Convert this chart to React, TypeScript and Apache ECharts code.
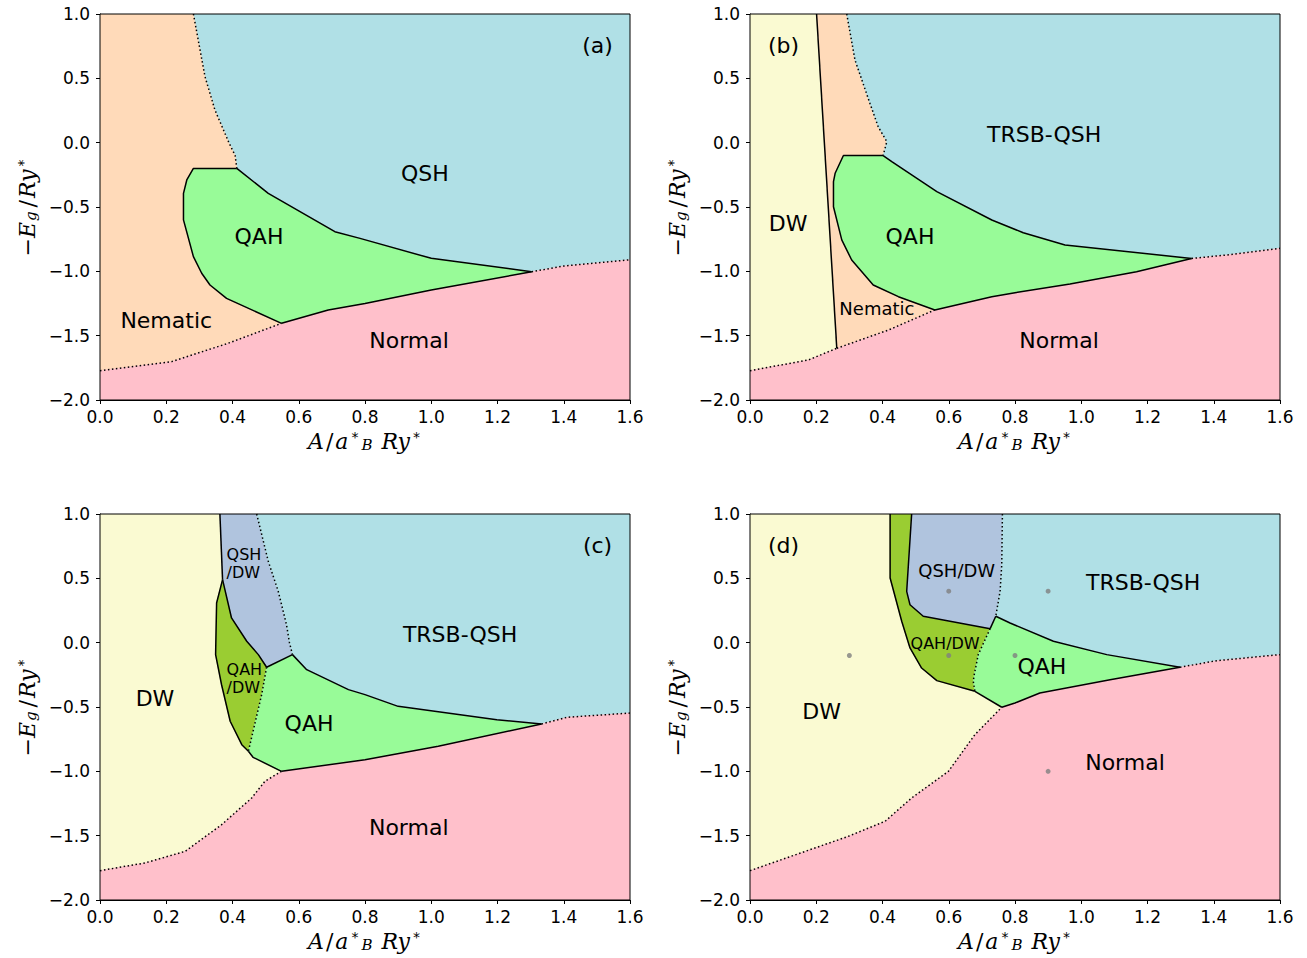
import React, { useEffect, useRef } from "react";
import * as echarts from "echarts";

type P = [number, number];

const COLORS = {
  nem: "#FFDAB9",
  qsh: "#B0E0E6",
  qah: "#98FB98",
  normal: "#FFC0CB",
  dw: "#FAFAD2",
  qshdw: "#B0C4DE",
  qahdw: "#9ACD32",
};

const X_MIN = 0, X_MAX = 1.6, X_STEP = 0.2;
const Y_MIN = -2, Y_MAX = 1, Y_STEP = 0.5;

// ---------- Panel (a) boundaries ----------
const A_nemQsh: P[] = [[0.282, 1.0], [0.317, 0.513], [0.347, 0.254], [0.39, -0.005], [0.408, -0.1], [0.413, -0.2]];
const A_qahLeft: P[] = [[0.413, -0.2], [0.282, -0.2], [0.262, -0.29], [0.252, -0.394], [0.252, -0.6], [0.282, -0.886], [0.307, -1.015], [0.332, -1.106], [0.382, -1.21], [0.548, -1.404]];
const A_qahTop: P[] = [[0.413, -0.2], [0.508, -0.394], [0.709, -0.692], [0.785, -0.744], [1.0, -0.899], [1.303, -1.003]];
const A_qahBottom: P[] = [[0.548, -1.404], [0.689, -1.3], [0.8, -1.25], [1.0, -1.145], [1.303, -1.003]];
const A_low: P[] = [[0, -1.772], [0.216, -1.702], [0.387, -1.559], [0.548, -1.404]];
const A_right: P[] = [[1.303, -1.003], [1.4, -0.959], [1.6, -0.91]];

// ---------- Panel (b) boundaries ----------
const B_dwLine: P[] = [[0.201, 1.0], [0.262, -1.598]];
const B_nemQsh: P[] = [[0.292, 1.0], [0.317, 0.642], [0.362, 0.306], [0.387, 0.124], [0.413, 0.008], [0.402, -0.1]];
const B_qahLeft: P[] = [[0.402, -0.1], [0.282, -0.1], [0.257, -0.238], [0.252, -0.303], [0.252, -0.498], [0.277, -0.756], [0.307, -0.912], [0.372, -1.106], [0.448, -1.197], [0.558, -1.3]];
const B_qahTop: P[] = [[0.402, -0.1], [0.428, -0.148], [0.564, -0.381], [0.73, -0.601], [0.825, -0.7], [0.951, -0.795], [1.333, -0.9]];
const B_qahBottom: P[] = [[0.558, -1.3], [0.73, -1.197], [0.8, -1.166], [0.966, -1.098], [1.167, -1.003], [1.333, -0.9]];
const B_low1: P[] = [[0, -1.772], [0.176, -1.689], [0.262, -1.598]];
const B_low2: P[] = [[0.262, -1.598], [0.418, -1.456], [0.558, -1.3]];
const B_right: P[] = [[1.333, -0.9], [1.439, -0.873], [1.6, -0.821]];

// ---------- Panel (c) boundaries ----------
const C_dwQshdw: P[] = [[0.362, 1.0], [0.37, 0.49]];
const C_qahdwLeft: P[] = [[0.37, 0.49], [0.352, 0.308], [0.349, -0.093], [0.367, -0.327], [0.393, -0.611], [0.428, -0.793], [0.448, -0.844]];
const C_dwQah: P[] = [[0.448, -0.844], [0.462, -0.891], [0.548, -1.0]];
const C_qshdwQahdw: P[] = [[0.37, 0.49], [0.397, 0.192], [0.443, 0.011], [0.478, -0.093], [0.503, -0.191]];
const C_qshdwQah: P[] = [[0.503, -0.191], [0.581, -0.093]];
const C_qshdwTrsb: P[] = [[0.473, 1.0], [0.508, 0.632], [0.538, 0.4], [0.563, 0.14], [0.572, 0.0], [0.581, -0.093]];
const C_qahdwQah: P[] = [[0.503, -0.191], [0.488, -0.404], [0.448, -0.844]];
const C_qahTop: P[] = [[0.581, -0.093], [0.624, -0.21], [0.75, -0.365], [0.8, -0.404], [0.9, -0.495], [1.198, -0.599], [1.333, -0.632]];
const C_qahBottom: P[] = [[0.548, -1.0], [0.8, -0.91], [1.021, -0.805], [1.333, -0.632]];
const C_low: P[] = [[0, -1.772], [0.136, -1.712], [0.257, -1.622], [0.367, -1.415], [0.458, -1.207], [0.498, -1.077], [0.548, -1.0]];
const C_right: P[] = [[1.333, -0.632], [1.41, -0.58], [1.6, -0.547]];

// ---------- Panel (d) boundaries ----------
const D_dwQahdw: P[] = [[0.423, 1.0], [0.423, 0.503], [0.458, 0.166], [0.483, -0.041], [0.518, -0.197], [0.564, -0.295], [0.679, -0.378]];
const D_dwQah: P[] = [[0.679, -0.378], [0.76, -0.502]];
const D_qahdwQshdw: P[] = [[0.488, 1.0], [0.473, 0.399], [0.483, 0.295], [0.523, 0.205], [0.725, 0.109]];
const D_qshdwQah: P[] = [[0.725, 0.109], [0.742, 0.205]];
const D_qshdwTrsb: P[] = [[0.762, 1.0], [0.76, 0.606], [0.755, 0.4], [0.742, 0.205]];
const D_qahdwQah: P[] = [[0.725, 0.109], [0.689, -0.093], [0.677, -0.249], [0.674, -0.3], [0.679, -0.378]];
const D_qahTop: P[] = [[0.742, 0.205], [0.785, 0.153], [0.916, 0.011], [1.077, -0.093], [1.298, -0.191]];
const D_qahBottom: P[] = [[0.76, -0.502], [0.8, -0.469], [0.875, -0.391], [1.087, -0.288], [1.298, -0.191]];
const D_low: P[] = [[0, -1.772], [0.297, -1.505], [0.408, -1.388], [0.488, -1.207], [0.599, -1.0], [0.679, -0.715], [0.76, -0.502]];
const D_right: P[] = [[1.298, -0.191], [1.409, -0.14], [1.6, -0.093]];
const D_samples: P[] = [[0.3, -0.1], [0.6, 0.4], [0.6, -0.1], [0.8, -0.1], [0.9, 0.4], [0.9, -1.0]];

const TL: P = [X_MIN, Y_MAX];
const TR: P = [X_MAX, Y_MAX];
const BR: P = [X_MAX, Y_MIN];
const BL: P = [X_MIN, Y_MIN];

const rev = (a: P[]) => [...a].reverse();
const cat = (...arrs: P[][]) => ([] as P[]).concat(...arrs);

type Label = { text: string; x: number; y: number; size: number; align?: string };
type Panel = {
  regions: { pts: P[]; color: string }[];
  solid: P[][];
  dotted: P[][];
  labels: Label[];
  samples?: P[];
};

const panels: Panel[] = [
  {
    regions: [
      { color: COLORS.qsh, pts: cat(A_nemQsh, A_qahTop, A_right, [TR]) },
      { color: COLORS.nem, pts: cat([TL], A_nemQsh, A_qahLeft, rev(A_low)) },
      { color: COLORS.normal, pts: cat(A_low, A_qahBottom, A_right, [BR, BL]) },
      { color: COLORS.qah, pts: cat(A_qahLeft, A_qahBottom, rev(A_qahTop)) },
    ],
    solid: [A_qahLeft, A_qahTop, A_qahBottom],
    dotted: [A_nemQsh, A_low, A_right],
    labels: [
      { text: "QSH", x: 0.981, y: -0.236, size: 22 },
      { text: "QAH", x: 0.48, y: -0.733, size: 22 },
      { text: "Nematic", x: 0.2, y: -1.386, size: 22 },
      { text: "Normal", x: 0.933, y: -1.541, size: 22 },
      { text: "(a)", x: 1.502, y: 0.759, size: 22 },
    ],
  },
  {
    regions: [
      { color: COLORS.dw, pts: cat([TL], B_dwLine, rev(B_low1)) },
      { color: COLORS.nem, pts: cat(B_nemQsh, B_qahLeft, rev(B_low2), [B_dwLine[0]]) },
      { color: COLORS.qsh, pts: cat(B_nemQsh, B_qahTop, B_right, [TR]) },
      { color: COLORS.normal, pts: cat(B_low1, B_low2, B_qahBottom, B_right, [BR, BL]) },
      { color: COLORS.qah, pts: cat(B_qahLeft, B_qahBottom, rev(B_qahTop)) },
    ],
    solid: [B_dwLine, B_qahLeft, B_qahTop, B_qahBottom],
    dotted: [B_nemQsh, B_low1, B_low2, B_right],
    labels: [
      { text: "TRSB-QSH", x: 0.888, y: 0.067, size: 22 },
      { text: "DW", x: 0.115, y: -0.632, size: 22 },
      { text: "QAH", x: 0.483, y: -0.733, size: 22 },
      { text: "Nematic", x: 0.383, y: -1.285, size: 18 },
      { text: "Normal", x: 0.933, y: -1.541, size: 22 },
      { text: "(b)", x: 0.101, y: 0.759, size: 22 },
    ],
  },
  {
    regions: [
      { color: COLORS.dw, pts: cat([TL], C_dwQshdw, C_qahdwLeft, C_dwQah, rev(C_low)) },
      { color: COLORS.qshdw, pts: cat(C_dwQshdw, C_qshdwQahdw, C_qshdwQah, rev(C_qshdwTrsb)) },
      { color: COLORS.qahdw, pts: cat(C_qahdwLeft, rev(C_qahdwQah), rev(C_qshdwQahdw)) },
      { color: COLORS.qah, pts: cat(C_qahdwQah, C_dwQah, C_qahBottom, rev(C_qahTop), rev(C_qshdwQah)) },
      { color: COLORS.qsh, pts: cat(C_qshdwTrsb, C_qahTop, C_right, [TR]) },
      { color: COLORS.normal, pts: cat(C_low, C_qahBottom, C_right, [BR, BL]) },
    ],
    solid: [C_dwQshdw, C_qahdwLeft, C_dwQah, C_qshdwQahdw, C_qshdwQah, C_qahTop, C_qahBottom],
    dotted: [C_qshdwTrsb, C_qahdwQah, C_low, C_right],
    labels: [
      { text: "(c)", x: 1.502, y: 0.759, size: 22 },
      { text: "TRSB-QSH", x: 1.087, y: 0.067, size: 22 },
      { text: "QSH\n/DW", x: 0.382, y: 0.619, size: 16, align: "left" },
      { text: "QAH\n/DW", x: 0.382, y: -0.28, size: 16, align: "left" },
      { text: "DW", x: 0.166, y: -0.435, size: 22 },
      { text: "QAH", x: 0.631, y: -0.632, size: 22 },
      { text: "Normal", x: 0.932, y: -1.44, size: 22 },
    ],
  },
  {
    regions: [
      { color: COLORS.dw, pts: cat([TL], D_dwQahdw, D_dwQah, rev(D_low)) },
      { color: COLORS.qahdw, pts: cat(D_dwQahdw, rev(D_qahdwQah), rev(D_qahdwQshdw)) },
      { color: COLORS.qshdw, pts: cat(D_qahdwQshdw, D_qshdwQah, rev(D_qshdwTrsb)) },
      { color: COLORS.qah, pts: cat(D_qshdwQah, D_qahTop, rev(D_qahBottom), rev(D_dwQah), rev(D_qahdwQah)) },
      { color: COLORS.qsh, pts: cat(D_qshdwTrsb, D_qahTop, D_right, [TR]) },
      { color: COLORS.normal, pts: cat(D_low, D_qahBottom, D_right, [BR, BL]) },
    ],
    solid: [D_dwQahdw, D_dwQah, D_qahdwQshdw, D_qshdwQah, D_qahTop, D_qahBottom],
    dotted: [D_qshdwTrsb, D_qahdwQah, D_low, D_right],
    labels: [
      { text: "(d)", x: 0.101, y: 0.759, size: 22 },
      { text: "QSH/DW", x: 0.624, y: 0.56, size: 18 },
      { text: "TRSB-QSH", x: 1.187, y: 0.471, size: 22 },
      { text: "QAH/DW", x: 0.589, y: -0.003, size: 16 },
      { text: "QAH", x: 0.881, y: -0.185, size: 22 },
      { text: "DW", x: 0.216, y: -0.534, size: 22 },
      { text: "Normal", x: 1.132, y: -0.935, size: 22 },
    ],
    samples: D_samples,
  },
];

const GRID_POS: [number, number][] = [[100, 14], [750, 14], [100, 514], [750, 514]];
const GRID_W = 530;
const GRID_H = 386;

const FONT = "DejaVu Sans";
const MATH = "DejaVu Serif";

const fmt = (v: number) => (v < 0 ? "\u2212" + Math.abs(v).toFixed(1) : v.toFixed(1));

const mathRich = {
  i: { fontFamily: MATH, fontStyle: "italic", fontSize: 22, color: "#000" },
  sl: { fontFamily: MATH, fontStyle: "normal", fontSize: 22, color: "#000", padding: [0, 2, 0, 2] },
  sup: { fontFamily: FONT, fontSize: 14, color: "#000", verticalAlign: "top", padding: [0, 2, 0, 3] },
  sub: { fontFamily: MATH, fontStyle: "italic", fontSize: 15, color: "#000", verticalAlign: "bottom", padding: [0, 2, 0, 1] },
};

function buildOption() {
  const grid: any[] = [];
  const xAxis: any[] = [];
  const yAxis: any[] = [];
  const series: any[] = [];

  panels.forEach((p, k) => {
    grid.push({ left: GRID_POS[k][0], top: GRID_POS[k][1], width: GRID_W, height: GRID_H, containLabel: false });
    xAxis.push({
      type: "value", gridIndex: k, min: X_MIN, max: X_MAX, interval: X_STEP,
      axisLine: { show: true, onZero: false, lineStyle: { color: "#000", width: 1 } },
      axisTick: { show: true, inside: false, length: 4, lineStyle: { color: "#000" } },
      axisLabel: { fontFamily: FONT, fontSize: 17, color: "#000", margin: 8, formatter: fmt },
      splitLine: { show: false },
      name: "{i|A}{sl|/}{i|a}{sup|*}{sub|B}{i| Ry}{sup|*}",
      nameLocation: "middle", nameGap: 30,
      nameTextStyle: { rich: mathRich },
    });
    yAxis.push({
      type: "value", gridIndex: k, min: Y_MIN, max: Y_MAX, interval: Y_STEP,
      axisLine: { show: true, onZero: false, lineStyle: { color: "#000", width: 1 } },
      axisTick: { show: true, inside: false, length: 4, lineStyle: { color: "#000" } },
      axisLabel: { fontFamily: FONT, fontSize: 17, color: "#000", margin: 10, formatter: fmt },
      splitLine: { show: false },
      name: "{i|\u2212E}{sub|g}{sl|/}{i|Ry}{sup|*}",
      nameLocation: "middle", nameGap: 62, nameRotate: 90,
      nameTextStyle: { rich: mathRich },
    });

    const regions = p.regions;
    series.push({
      type: "custom", xAxisIndex: k, yAxisIndex: k, z: 1, silent: true, clip: true,
      data: regions.map(() => [X_MIN, Y_MIN]),
      renderItem: (params: any, api: any) => {
        const r = regions[params.dataIndex];
        return {
          type: "polygon",
          shape: { points: r.pts.map((pt) => api.coord(pt)) },
          style: { fill: r.color, stroke: r.color, lineWidth: 0.6 },
        };
      },
    });

    p.solid.forEach((ln) => {
      series.push({
        type: "line", xAxisIndex: k, yAxisIndex: k, z: 3, silent: true, showSymbol: false, symbol: "none",
        data: ln, lineStyle: { color: "#000", width: 1.5, type: "solid", join: "round" },
      });
    });
    p.dotted.forEach((ln) => {
      series.push({
        type: "line", xAxisIndex: k, yAxisIndex: k, z: 3, silent: true, showSymbol: false, symbol: "none",
        data: ln, lineStyle: { color: "#000", width: 1.5, type: [1.5, 2.5], cap: "butt" },
      });
    });

    if (p.samples) {
      series.push({
        type: "scatter", xAxisIndex: k, yAxisIndex: k, z: 4, silent: true,
        symbolSize: 5, itemStyle: { color: "#808080" }, data: p.samples,
      });
    }

    series.push({
      type: "scatter", xAxisIndex: k, yAxisIndex: k, z: 5, silent: true,
      symbolSize: 1, itemStyle: { color: "rgba(0,0,0,0)" },
      data: p.labels.map((l) => ({
        value: [l.x, l.y], name: l.text,
        label: {
          show: true, position: "inside", formatter: "{b}", fontFamily: FONT, fontSize: l.size, color: "#000",
          textBorderWidth: 0, opacity: 1,
          align: l.align || "center", verticalAlign: "middle", lineHeight: Math.round(l.size * 1.15),
        },
      })),
    });

    series.push({
      type: "custom", xAxisIndex: k, yAxisIndex: k, z: 10, silent: true, clip: false,
      data: [[X_MIN, Y_MIN]],
      renderItem: (_params: any, api: any) => {
        const a = api.coord([X_MIN, Y_MAX]);
        const b = api.coord([X_MAX, Y_MIN]);
        return {
          type: "rect",
          shape: { x: a[0], y: a[1], width: b[0] - a[0], height: b[1] - a[1] },
          style: { fill: "none", stroke: "#000", lineWidth: 1 },
        };
      },
    });
  });

  return { animation: false, backgroundColor: "#fff", grid, xAxis, yAxis, series };
}

export default function App() {
  const ref = useRef<HTMLDivElement>(null);
  useEffect(() => {
    if (!ref.current) return;
    const chart = echarts.init(ref.current, undefined, { renderer: "svg" });
    chart.setOption(buildOption() as any);
    return () => chart.dispose();
  }, []);
  return (
    <div
      ref={ref}
      style={{ position: "fixed", left: 0, top: 0, width: 1307, height: 958, background: "#fff" }}
    />
  );
}
